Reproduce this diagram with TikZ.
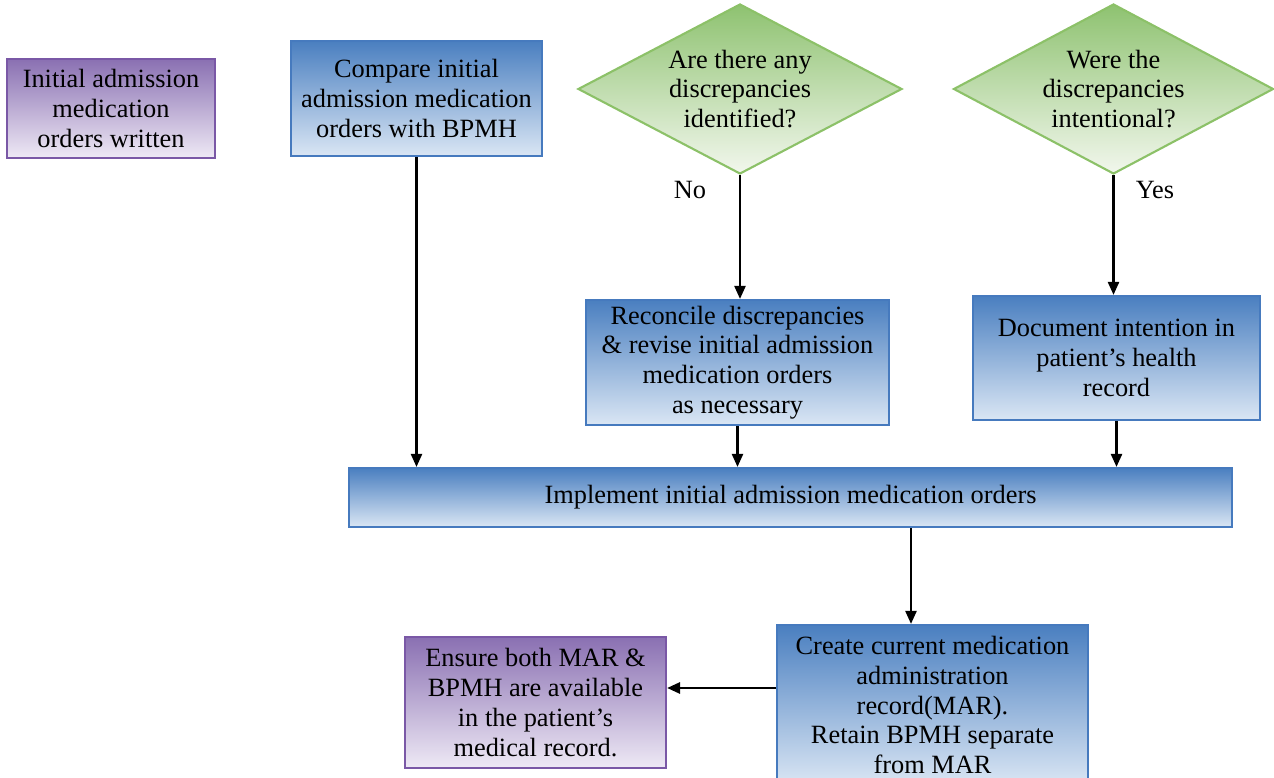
\documentclass[tikz,border=0pt]{standalone}
\usepackage{fontspec}
\setmainfont{Liberation Serif}
\usepackage{tikz}
\usetikzlibrary{shapes.geometric,arrows.meta,positioning,calc}

\definecolor{bluetop}{RGB}{74,127,192}
\definecolor{bluebot}{RGB}{218,230,244}
\definecolor{blueline}{RGB}{70,122,190}
\definecolor{purptop}{RGB}{138,112,178}
\definecolor{purpbot}{RGB}{238,233,245}
\definecolor{purpline}{RGB}{122,88,166}
\definecolor{greentop}{RGB}{142,194,112}
\definecolor{greenbot}{RGB}{242,247,237}
\definecolor{greenline}{RGB}{140,193,104}

\begin{document}
\begin{tikzpicture}[
    font=\fontsize{15}{16.9}\selectfont,
    bluebox/.style={draw=blueline,line width=1.2pt,top color=bluetop,bottom color=bluebot,align=center,inner sep=0pt},
    purplebox/.style={draw=purpline,line width=1.2pt,top color=purptop,bottom color=purpbot,align=center,inner sep=0pt},
    greendiamond/.style={diamond,draw=greenline,line width=1.2pt,top color=greentop,bottom color=greenbot,align=center,inner sep=0pt,aspect=1.9},
    flow/.style={line width=1.3pt,-{Triangle[length=0.26cm,width=0.22cm]}}
  ]

    \useasboundingbox (0,0) rectangle (25.48,15.56);

    % top row
    \node (init) at (2.22,13.39) [purplebox,minimum width=4.16cm,minimum height=1.98cm] {Initial admission\\medication\\orders written};
    \node (compare) at (8.33,13.59) [bluebox,minimum width=5.02cm,minimum height=2.30cm] {Compare initial\\admission medication\\orders with BPMH};
    \node (anydisc) at (14.80,13.78) [greendiamond,minimum width=6.48cm,minimum height=3.40cm] {Are there any\\discrepancies\\identified?};
    \node (intent) at (22.27,13.78) [greendiamond,minimum width=6.40cm,minimum height=3.40cm] {Were the\\discrepancies\\intentional?};

    \node (no) at (13.80,11.76) {No};
    \node (yes) at (23.10,11.76) {Yes};

    % middle row
    \node (reconcile) at (14.75,8.31) [bluebox,minimum width=6.06cm,minimum height=2.50cm] {Reconcile discrepancies\\\& revise initial admission\\medication orders\\as necessary};
    \node (document) at (22.33,8.40) [bluebox,minimum width=5.74cm,minimum height=2.48cm] {Document intention in\\patient's health\\record};
    \node (implement) at (15.81,5.61) [bluebox,minimum width=17.66cm,minimum height=1.18cm] {Implement initial admission medication orders};

    % bottom row
    \node (create) at (18.65,1.46) [bluebox,minimum width=6.22cm,minimum height=3.20cm] {Create current medication\\administration\\record(MAR).\\Retain BPMH separate\\from MAR};
    \node (ensure) at (10.71,1.51) [purplebox,minimum width=5.22cm,minimum height=2.62cm] {Ensure both MAR \&\\BPMH are available\\in the patient's\\medical record.};

    \coordinate (tap) at (18.22,0);
    \coordinate (side) at (0,1.80);

    \draw[flow] (compare.south) -- (compare.south |- implement.north);
    \draw[flow] (anydisc.south) -- (anydisc.south |- reconcile.north);
    \draw[flow] (reconcile.south) -- (reconcile.south |- implement.north);
    \draw[flow] (intent.south) -- (intent.south |- document.north);
    \draw[flow] (document.south) -- (document.south |- implement.north);
    \draw[flow] (tap |- implement.south) -- (tap |- create.north);
    \draw[flow,line width=1.6pt] (side -| create.west) -- (side -| ensure.east);

\end{tikzpicture}
\end{document}
